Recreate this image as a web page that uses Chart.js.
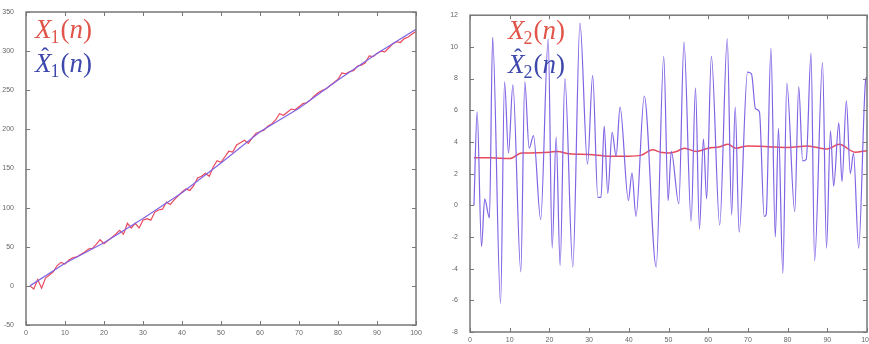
<!DOCTYPE html>
<html>
<head>
<meta charset="utf-8">
<script src="https://cdn.jsdelivr.net/npm/chart.js@4/dist/chart.umd.min.js"></script>
<style>
  html, body { margin: 0; padding: 0; background: #fff; overflow: hidden; width: 869px; height: 344px; }
  #leftChart { position: absolute; left: 0; top: 0; }
  #rightChart { position: absolute; left: 440px; top: 7px; }
</style>
</head>
<body>
<canvas id="leftChart" width="430" height="344"></canvas>
<canvas id="rightChart" width="440" height="344"></canvas>
<script>
// left panel: X1(n), one value per n = 1..100
const x1Values = [
  0, -4, 8, -3, 10, 14, 18, 26, 30, 28,
  33, 36, 37, 40, 43, 47, 48, 53, 59, 54,
  58, 62, 66, 71, 66, 80, 74, 80, 74, 84,
  86, 84, 94, 97, 98, 107, 104, 110, 115, 120,
  124, 122, 128, 138, 140, 144, 140, 152, 160, 158,
  165, 172, 171, 180, 183, 186, 182, 189, 195, 197,
  199, 204, 207, 212, 220, 218, 222, 226, 225, 229,
  233, 234, 238, 243, 247, 250, 252, 256, 260, 264,
  272, 271, 274, 275, 281, 282, 285, 294, 293, 297,
  300, 299, 304, 309, 312, 311, 316, 318, 322, 325
];
// estimate X1hat(n), read every 10 samples
const x1HatN = [1, 10, 20, 30, 40, 50, 60, 70, 80, 90, 100];
const x1HatValues = [0, 29, 55, 86, 119, 157, 197, 227, 263, 297, 328];

// right panel: X2(n) (slow red curve)
const x2N = [1, 5, 10, 13, 15, 20, 22, 25, 30, 35, 40, 43, 46, 48, 50, 52, 54, 57, 60, 63, 65, 67, 70, 75, 80, 85, 90, 93, 97, 100];
const x2Values = [3.0, 3.0, 2.95, 3.3, 3.3, 3.35, 3.4, 3.25, 3.2, 3.1, 3.1, 3.15, 3.5, 3.35, 3.3, 3.4, 3.6, 3.4, 3.6, 3.7, 3.85, 3.6, 3.75, 3.7, 3.65, 3.75, 3.55, 3.85, 3.35, 3.45];
// estimate X2hat(n), turning points
const x2HatN = [
  1, 1.8, 2.9, 3.7, 4.9, 5.7, 7.7, 8.7, 9.7, 10.8,
  12.8, 13.8, 14.9, 16, 17.8, 19.7, 20.7, 21.7, 22.7, 23.9,
  25.9, 27.7, 29.6, 30.9, 32.2, 33, 33.8, 34.7, 35.8, 36.8,
  37.8, 39.9, 40.8, 41.8, 43.9, 46.9, 48.8, 49.9, 50.7, 52.6,
  53.9, 55.7, 56.8, 57.8, 58.8, 59.6, 60.8, 62.9, 64.8, 65.9,
  66.8, 67.8, 69.9, 70.9, 71.9, 72.9, 74.1, 74.6, 75.8, 76.9,
  77.7, 78.8, 79.8, 81.8, 82.8, 83.8, 84.7, 85.9, 86.8, 88.8,
  89.8, 90.8, 91.6, 92.9, 93.7, 94.8, 95.8, 96.6, 97.9, 99.7, 100
];
const x2HatValues = [
  0, 5.9, -2.6, 0.4, -0.8, 10.6, -6.2, 7.8, 3.3, 7.6,
  -4.2, 7.8, 3.6, 4.4, -0.9, 10.5, -2.7, 4.3, -3.8, 8.0,
  -3.9, 11.5, 2.6, 8.2, 0.5, 0.5, 5.0, 0.75, 4.6, 3.1,
  6.2, 0.3, 2.05, -0.7, 6.9, -3.9, 9.4, 0.3, 3.4, 0.1,
  10.3, -1.0, 7.4, -1.5, 4.2, 0.4, 9.4, -1.25, 10.5, -0.6,
  6.2, -1.7, 8.4, 8.3, 6.1, 5.9, -0.7, -0.6, 9.9, -2.0,
  4.85, -4.3, 7.7, -0.4, 7.5, 2.8, 2.9, 9.6, -3.5, 9.0,
  -2.7, 4.7, 1.2, 5.2, 1.5, 6.6, 2.0, 3.3, -2.7, 8.0, 8.1
];

const RED = 'rgb(232, 74, 92)';
const PURPLE = 'rgb(128, 100, 228)';

function pairs(xs, ys) {
  return xs.map((x, i) => ({ x: x, y: ys[i] }));
}

// matlab style box with inward ticks, plus the n-axis numbers
const frameTicks = {
  id: 'frameTicks',
  afterDatasetsDraw(chart) {
    const { ctx, chartArea: a, scales: { x, y } } = chart;
    ctx.save();
    ctx.strokeStyle = '#777';
    ctx.lineWidth = 1.5;
    ctx.strokeRect(a.left, a.top, a.right - a.left, a.bottom - a.top);
    ctx.lineWidth = 1;
    ctx.beginPath();
    x.ticks.forEach(t => {
      const px = Math.round(x.getPixelForValue(t.value)) + 0.5;
      ctx.moveTo(px, a.bottom); ctx.lineTo(px, a.bottom - 4);
      ctx.moveTo(px, a.top); ctx.lineTo(px, a.top + 4);
    });
    y.ticks.forEach(t => {
      const py = Math.round(y.getPixelForValue(t.value)) + 0.5;
      ctx.moveTo(a.left, py); ctx.lineTo(a.left + 4, py);
      ctx.moveTo(a.right, py); ctx.lineTo(a.right - 4, py);
    });
    ctx.stroke();
    ctx.fillStyle = '#666';
    ctx.font = '7px "Liberation Sans"';
    ctx.textAlign = 'center';
    ctx.textBaseline = 'top';
    x.ticks.forEach(t => {
      ctx.fillText(t.label, x.getPixelForValue(t.value), a.bottom + 5);
    });
    ctx.restore();
  }
};

// the two math labels, X_k(n) and X-hat_k(n)
function drawMath(ctx, x, y, sub, color, hat) {
  ctx.fillStyle = color;
  ctx.textBaseline = 'alphabetic';
  ctx.font = 'italic 27px "Liberation Serif"';
  ctx.fillText('X', x, y);
  const wX = ctx.measureText('X').width;
  if (hat) {
    ctx.font = '24px "Liberation Serif"';
    ctx.fillText('\u02C6', x + 6, y - 8);
  }
  ctx.font = '18px "Liberation Serif"';
  ctx.fillText(sub, x + wX - 1, y + 5);
  let cx = x + wX - 1 + ctx.measureText(sub).width + 1;
  ctx.font = '27px "Liberation Serif"';
  ctx.fillText('(', cx, y);
  cx += ctx.measureText('(').width;
  ctx.font = 'italic 27px "Liberation Serif"';
  ctx.fillText('n', cx, y);
  cx += ctx.measureText('n').width;
  ctx.font = '27px "Liberation Serif"';
  ctx.fillText(')', cx, y);
}

const mathLabels = {
  id: 'mathLabels',
  afterDraw(chart, args, opts) {
    const { ctx, chartArea: a } = chart;
    ctx.save();
    drawMath(ctx, a.left + opts.dx, a.top + opts.y1, opts.sub, 'rgb(224, 84, 74)', false);
    drawMath(ctx, a.left + opts.dx, a.top + opts.y2, opts.sub, 'rgb(62, 72, 172)', true);
    ctx.restore();
  }
};

function axisOpts(min, max, step, fit, showLabels) {
  return {
    type: 'linear',
    min: min,
    max: max,
    grid: { display: false },
    border: { display: false },
    ticks: {
      display: showLabels,
      stepSize: step,
      color: '#666',
      font: { family: 'Liberation Sans', size: 7 },
      padding: 4,
      maxRotation: 0,
      autoSkip: false
    },
    afterFit: fit
  };
}

function baseOptions(padding, yMin, yMax, yStep, yWidth, xHeight, labelOpts) {
  return {
    responsive: false,
    animation: false,
    layout: { padding: padding },
    plugins: {
      legend: { display: false },
      tooltip: { enabled: false },
      mathLabels: labelOpts
    },
    elements: { point: { radius: 0 } },
    scales: {
      x: axisOpts(0, 100, 10, s => { s.height = xHeight; }, false),
      y: axisOpts(yMin, yMax, yStep, s => { s.width = yWidth; }, true)
    }
  };
}

new Chart(document.getElementById('leftChart'), {
  type: 'line',
  data: {
    datasets: [
      {
        label: 'X1hat(n)',
        data: pairs(x1HatN, x1HatValues),
        borderColor: PURPLE,
        borderWidth: 1.2,
        tension: 0
      },
      {
        label: 'X1(n)',
        data: x1Values.map((v, i) => ({ x: i + 1, y: v })),
        borderColor: RED,
        borderWidth: 1.2,
        tension: 0
      }
    ]
  },
  options: baseOptions({ top: 12, right: 14, left: 0, bottom: 0 }, -50, 350, 50, 26, 19,
    { dx: 9, y1: 26, y2: 60, sub: '1' }),
  plugins: [frameTicks, mathLabels]
});

new Chart(document.getElementById('rightChart'), {
  type: 'line',
  data: {
    datasets: [
      {
        label: 'X2hat(n)',
        data: pairs(x2HatN, x2HatValues),
        borderColor: PURPLE,
        borderWidth: 1.2,
        cubicInterpolationMode: 'monotone'
      },
      {
        label: 'X2(n)',
        data: pairs(x2N, x2Values),
        borderColor: RED,
        borderWidth: 1.5,
        cubicInterpolationMode: 'monotone'
      }
    ]
  },
  options: baseOptions({ top: 8, right: 13, left: 0, bottom: 0 }, -8, 12, 2, 30, 19,
    { dx: 38, y1: 24, y2: 58, sub: '2' }),
  plugins: [frameTicks, mathLabels]
});
</script>
</body>
</html>
